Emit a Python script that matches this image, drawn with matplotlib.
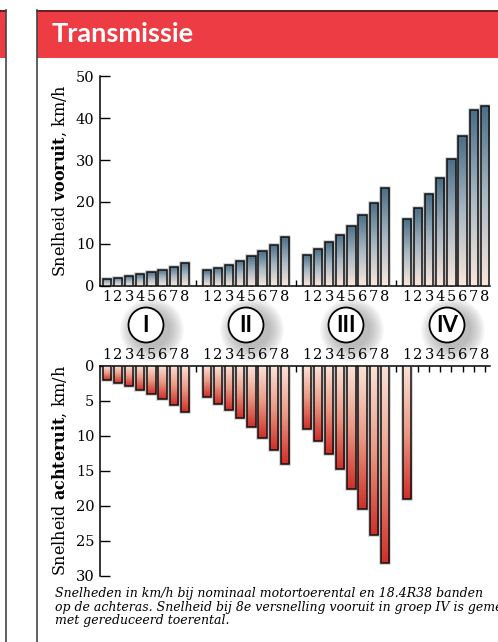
import numpy as np
import matplotlib
matplotlib.use("Agg")
from matplotlib import pyplot as plt
from matplotlib.colors import LinearSegmentedColormap
from matplotlib.patches import Rectangle, Circle

plt.rcParams['font.family'] = ['DejaVu Serif']
plt.rcParams['mathtext.fontset'] = 'custom'
plt.rcParams['mathtext.rm'] = 'DejaVu Serif'
plt.rcParams['mathtext.bf'] = 'DejaVu Serif:bold'

groups = ['I', 'II', 'III', 'IV']
gears = ['1', '2', '3', '4', '5', '6', '7', '8']

# snelheid vooruit per groep, km/h
fwd_I = [1.7, 2.0, 2.3, 2.8, 3.3, 3.9, 4.6, 5.5]
fwd_II = [3.7, 4.3, 5.0, 6.0, 7.1, 8.3, 9.8, 11.6]
fwd_III = [7.4, 8.7, 10.4, 12.2, 14.4, 17.0, 19.8, 23.3]
fwd_IV = [15.9, 18.6, 21.8, 25.6, 30.3, 35.7, 41.8, 42.9]

# snelheid achteruit per groep, km/h (groep IV alleen 1e versnelling)
rev_I = [2.0, 2.5, 2.9, 3.5, 4.1, 4.8, 5.6, 6.6]
rev_II = [4.5, 5.4, 6.3, 7.4, 8.7, 10.3, 12.0, 14.1]
rev_III = [9.1, 10.7, 12.6, 14.8, 17.6, 20.5, 24.2, 28.2]
rev_IV = [19.1]

fwd = [fwd_I, fwd_II, fwd_III, fwd_IV]
rev = [rev_I, rev_II, rev_III, rev_IV]

footnote = ("Snelheden in km/h bij nominaal motortoerental en 18.4R38 banden\n"
            "op de achteras. Snelheid bij 8e versnelling vooruit in groep IV is gemeten\n"
            "met gereduceerd toerental.")

W, H = 498, 642
fig = plt.figure(figsize=(W / 100, H / 100), dpi=100)

# background layer in pixel coordinates
bg = fig.add_axes([0, 0, 1, 1])
bg.set_xlim(0, W)
bg.set_ylim(H, 0)
bg.axis('off')
bg.set_zorder(0)

red = '#ee3c45'
bg.add_patch(Rectangle((0, 10), 5.5, 48, color=red, lw=0))
bg.add_patch(Rectangle((36.5, 10), W - 36.5, 48, color=red, lw=0))
bg.plot([0, 5.5], [10.5, 10.5], color='#5a1e1e', lw=1.3)
bg.plot([36.5, W], [10.5, 10.5], color='#5a1e1e', lw=1.3)
bg.plot([5.5, 5.5], [10, H], color='#444444', lw=1.2)
bg.plot([36.5, 36.5], [10, H], color='#444444', lw=1.2)
bg.text(52, 34, 'Transmissie', color='white', fontsize=19.5, fontweight='bold',
        family=['Lato', 'DejaVu Sans'], va='center', ha='left')

# group badges between the two charts
badge_x = [146, 246, 346, 447]
for gx, name in zip(badge_x, groups):
    for k in range(12):
        r = 32 - k * 1.3
        bg.add_patch(Circle((gx + 6, 330), r, color='#777777', alpha=0.05, lw=0))
    bg.add_patch(Circle((gx, 325), 17.5, facecolor='white', edgecolor='black', lw=1.3))
    bg.text(gx, 326, name, fontsize=16, fontweight='bold', family=['Lato', 'DejaVu Sans'],
            ha='center', va='center')

bg.text(55, 587, footnote, fontsize=9.0, style='italic', ha='left', va='top',
        linespacing=1.05)

cm_fwd = LinearSegmentedColormap.from_list('fwd', ['#fbe7dd', '#a9b8c3', '#4a6d85'])
cm_rev = LinearSegmentedColormap.from_list('rev', ['#fbe3d9', '#ea9a86', '#cf2f28'])
grad = np.linspace(0, 1, 256).reshape(-1, 1)

slots = np.arange(35)
tick_labels = []
for s in slots:
    tick_labels.append(gears[s % 9] if s % 9 < 8 else '')

x_lo, x_hi = -0.63, 34.47
bar_w = 0.74


def style_axis(ax, label):
    ax.set_facecolor('none')
    ax.set_zorder(1)
    ax.spines['right'].set_visible(False)
    ax.spines['top'].set_visible(False)
    for sp in ('left', 'bottom'):
        ax.spines[sp].set_linewidth(1.1)
    ax.set_xticks(slots)
    ax.set_xticklabels(tick_labels)
    ax.tick_params(axis='x', direction='in', length=4, width=1.0, labelsize=10.5, pad=3)
    ax.tick_params(axis='y', direction='in', length=7, width=1.0, labelsize=10.5, pad=4)
    ax.set_xlim(x_lo, x_hi)
    ax.set_ylabel(label, fontsize=11.5, labelpad=5)


def draw_bars(ax, data, cmap):
    for g, vals in enumerate(data):
        xs = [g * 9 + i for i in range(len(vals))]
        ax.bar(xs, vals, width=bar_w, facecolor='none', edgecolor='#9a9a9a',
               lw=2.6, alpha=0.5, zorder=2)
        bars = ax.bar(xs, vals, width=bar_w, facecolor='none', edgecolor='#111111',
                      lw=1.1, zorder=4)
        for b in bars:
            x0 = b.get_x()
            im = ax.imshow(grad, cmap=cmap, aspect='auto', origin='lower',
                           extent=(x0, x0 + b.get_width(), 0, b.get_height()), zorder=3)
            im.set_clip_path(b)


# vooruit
ax1 = fig.add_axes([100 / W, 1 - 286 / H, 390 / W, 210 / H])
draw_bars(ax1, fwd, cm_fwd)
style_axis(ax1, 'Snelheid $\\mathbf{vooruit}$, km/h')
ax1.set_ylim(0, 50)
ax1.set_yticks([0, 10, 20, 30, 40, 50])

# achteruit
ax2 = fig.add_axes([100 / W, 1 - 575.7 / H, 390 / W, 210 / H])
draw_bars(ax2, rev, cm_rev)
style_axis(ax2, 'Snelheid $\\mathbf{achteruit}$, km/h')
ax2.set_ylim(30, 0)
ax2.set_yticks([0, 5, 10, 15, 20, 25, 30])
ax2.spines['bottom'].set_visible(False)
ax2.spines['top'].set_visible(True)
ax2.spines['top'].set_linewidth(1.1)
ax2.xaxis.set_ticks_position('top')
ax2.xaxis.set_label_position('top')
ax2.tick_params(axis='x', direction='in', length=4, width=1.0, labelsize=10.5, pad=3)
ax2.set_xlim(x_lo, x_hi)

fig.savefig('out.png', dpi=100)
